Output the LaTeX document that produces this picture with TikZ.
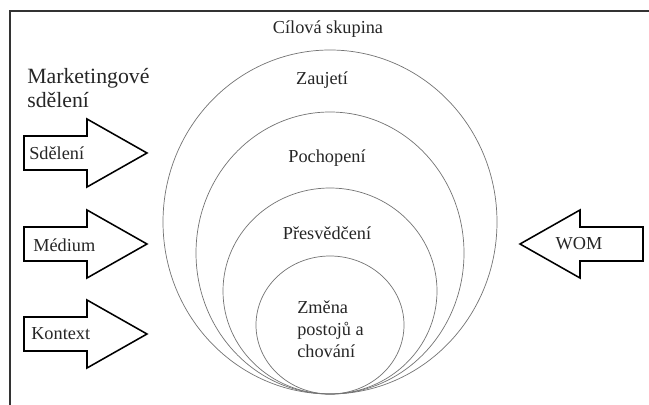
\documentclass[tikz,border=0pt]{standalone}
\usepackage{fontspec}
\setmainfont{Liberation Serif}
\newfontfamily\tnr{Liberation Serif}
\usetikzlibrary{positioning}

\begin{document}
\begin{tikzpicture}[x=0.025cm, y=-0.025cm, font=\tnr,
  frame/.style={draw=black!80, line width=1.3pt},
  ring/.style={draw=black!55, line width=0.5pt},
  blk/.style={draw=black, line width=1.1pt, line join=miter, fill=white},
  lab/.style={font=\tnr\fontsize{13}{15.5}\selectfont, text=black!85, inner sep=0pt},
  rarrow/.pic={\draw[blk] (0,-17) -- (63,-17) -- (63,-34) -- (123,0)
                 -- (63,34) -- (63,17) -- (0,17) -- cycle;}]
  \useasboundingbox (0,0) rectangle (649,405);

  % frame
  \draw[frame] (10,405) -- (10,11) -- (649,11);

  % nested target groups, all touching at the bottom
  \draw[ring] (330,222) ellipse [x radius=167, y radius=172];
  \draw[ring] (330,253) ellipse [x radius=134, y radius=141];
  \draw[ring] (330,291) ellipse [x radius=107, y radius=103];
  \draw[ring] (330,325) ellipse [x radius=74, y radius=69];

  \node[lab] (cil)  at (328,29)  {Cílová skupina};
  \node[lab] (zau)  at (322,80)  {Zaujetí};
  \node[lab] (poch) at (327,158) {Pochopení};
  \node[lab] (pres) at (327,233) {Přesvědčení};
  \node[lab, anchor=west, align=left] (zmena) at (297,329)
    {Změna\\postojů a\\chování};

  % incoming arrows
  \node[lab, anchor=west, align=left,
        font=\tnr\fontsize{15.5}{17}\selectfont] (mkt) at (27,88)
    {Marketingové\\sdělení};
  \pic at (24,153) {rarrow};
  \pic at (24,244) {rarrow};
  \pic at (24,334) {rarrow};
  \pic[xscale=-1] at (643,244) {rarrow};

  \node[lab, anchor=west] (sdel) at (29,153) {Sdělení};
  \node[lab, anchor=west] (med)  at (33,245) {Médium};
  \node[lab, anchor=west] (kon)  at (31,334) {Kontext};
  \node[lab] (wom) at (579,244) {WOM};
\end{tikzpicture}
\end{document}
